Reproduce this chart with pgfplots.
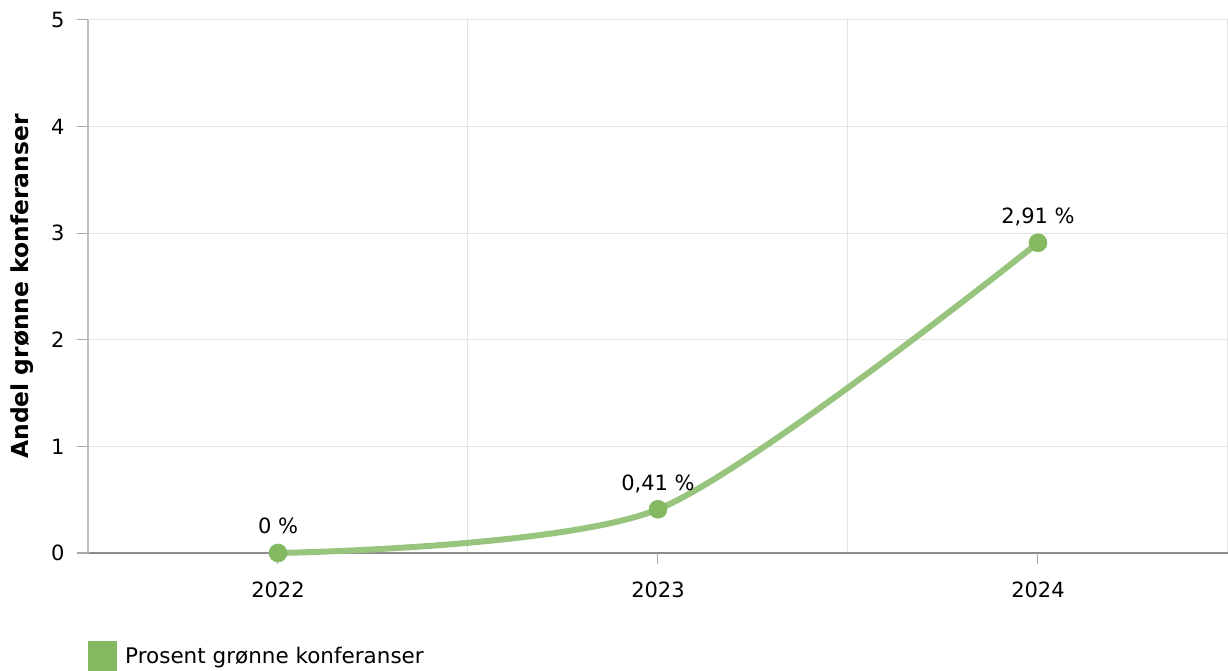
\documentclass[border=0pt]{standalone}
\usepackage{fontspec}
\setmainfont{DejaVu Sans}
\usepackage{pgfplots}
\pgfplotsset{compat=1.18}
\definecolor{lgreen}{HTML}{98C57E}
\definecolor{mgreen}{HTML}{84B962}
\definecolor{gridc}{HTML}{E3E3E3}
\definecolor{xaxc}{HTML}{8C8C8C}
\definecolor{yaxc}{HTML}{BDBDBD}
\definecolor{tickc}{HTML}{A8A8A8}
\begin{document}
\begin{tikzpicture}[x=1pt,y=1pt]
\begin{axis}[
  name=ax, at={(0,0)}, anchor=south west,
  scale only axis, width=1140pt, height=533pt,
  xmin=-0.5, xmax=2.5, ymin=0, ymax=5,
  xtick={0,1,2}, xticklabels={2022,2023,2024},
  minor xtick={-0.5,0.5,1.5,2.5},
  ytick={0,1,2,3,4,5},
  xminorgrids, ymajorgrids,
  grid style={draw=gridc, line width=1pt},
  minor grid style={draw=gridc, line width=1pt},
  axis x line*=bottom, axis y line*=left,
  xtick pos=bottom, ytick pos=left,
  x axis line style={-, draw=xaxc, line width=1.2pt},
  y axis line style={-, draw=yaxc, line width=1.2pt},
  tick align=outside, major tick length=11pt, minor tick length=0pt,
  xtick style={draw=tickc, line width=1pt},
  ytick style={draw=tickc, line width=1pt},
  /pgf/number format/assume math mode=true,
  ticklabel style={font=\fontsize{21}{25}\selectfont, text=black},
  yticklabel style={xshift=-9pt},
  xticklabel style={yshift=-14pt},
  ylabel={Andel grønne konferanser},
  ylabel style={at={(axis description cs:-0.0579,0.5)}, anchor=center, font=\bfseries\fontsize{23.4}{28}\selectfont},
  clip=false,
  legend style={at={(0,0)}, anchor=north west, yshift=-88pt, draw=none, fill=none, inner sep=0pt, font=\fontsize{21.5}{26}\selectfont, nodes={inner sep=0pt}},
  legend cell align=left,
  legend image code/.code={\fill[mgreen, draw=none] (0pt,-15pt) rectangle (29pt,15pt); \path[draw=none] (29pt,0pt) -- (37pt,0pt);},
]
\addplot[lgreen, line width=6pt, smooth, tension=0.45, mark=*, mark size=9pt,
  mark options={solid, fill=mgreen, draw=mgreen, line width=0.6pt},
  point meta=y,
  nodes near coords={\pgfmathprintnumber[use comma, fixed, precision=2]{\pgfplotspointmeta}~\%},
  every node near coord/.append style={font=\fontsize{21}{25}\selectfont, text=black, anchor=base, yshift=19pt, inner sep=0pt}]
  coordinates {(0,0) (1,0.41) (2,2.91)};
\addlegendentry{Prosent grønne konferanser}
\end{axis}
\pgfresetboundingbox
\path (-88pt,-118pt) rectangle (1140pt,553pt);
\end{tikzpicture}
\end{document}
